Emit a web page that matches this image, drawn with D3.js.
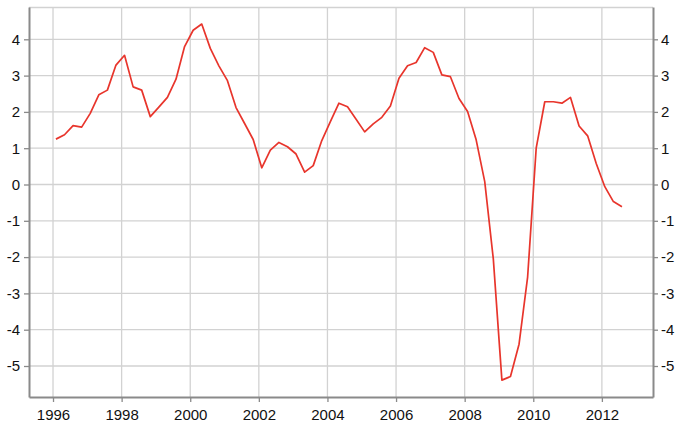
<!DOCTYPE html>
<html>
<head>
<meta charset="utf-8">
<script src="https://cdn.jsdelivr.net/npm/d3@7/dist/d3.min.js"></script>
<style>
  html, body { margin: 0; padding: 0; background: #fff; }
  svg { display: block; }
  text { font-family: "Liberation Sans", Arial, sans-serif; font-size: 15px; fill: #111; }
</style>
</head>
<body>
<svg id="chart" width="679" height="430"></svg>
<script>
// Quarterly periods (1996Q1 .. 2012Q3)
const quarters = [
  "1996Q1","1996Q2","1996Q3","1996Q4","1997Q1","1997Q2","1997Q3","1997Q4",
  "1998Q1","1998Q2","1998Q3","1998Q4","1999Q1","1999Q2","1999Q3","1999Q4",
  "2000Q1","2000Q2","2000Q3","2000Q4","2001Q1","2001Q2","2001Q3","2001Q4",
  "2002Q1","2002Q2","2002Q3","2002Q4","2003Q1","2003Q2","2003Q3","2003Q4",
  "2004Q1","2004Q2","2004Q3","2004Q4","2005Q1","2005Q2","2005Q3","2005Q4",
  "2006Q1","2006Q2","2006Q3","2006Q4","2007Q1","2007Q2","2007Q3","2007Q4",
  "2008Q1","2008Q2","2008Q3","2008Q4","2009Q1","2009Q2","2009Q3","2009Q4",
  "2010Q1","2010Q2","2010Q3","2010Q4","2011Q1","2011Q2","2011Q3","2011Q4",
  "2012Q1","2012Q2","2012Q3"
];
// Series values
const values = [
  1.25, 1.37, 1.62, 1.58, 1.96, 2.47, 2.60, 3.29,
  3.56, 2.69, 2.60, 1.87, 2.13, 2.40, 2.90, 3.80,
  4.25, 4.42, 3.75, 3.27, 2.86, 2.12, 1.68, 1.24,
  0.46, 0.95, 1.16, 1.04, 0.84, 0.34, 0.52, 1.21,
  1.73, 2.24, 2.14, 1.80, 1.45, 1.67, 1.85, 2.16,
  2.93, 3.27, 3.36, 3.77, 3.64, 3.02, 2.97, 2.37,
  2.01, 1.23, 0.08, -2.05, -5.39, -5.29, -4.40, -2.55,
  1.00, 2.28, 2.28, 2.24, 2.40, 1.61, 1.34, 0.58,
  -0.06, -0.47, -0.61
];
// Tick labels
const xTicks = [1996, 1998, 2000, 2002, 2004, 2006, 2008, 2010, 2012];
const yTicks = [-5, -4, -3, -2, -1, 0, 1, 2, 3, 4];

const svg = d3.select("#chart");
const L = 29, R = 653, T = 7, B = 397;

const x = d3.scaleLinear().domain([1995.30, 2013.49]).range([L, R]);
const y = d3.scaleLinear().domain([-5.854, 4.89]).range([B, T]);

const toYear = s => +s.slice(0, 4) + (+s.slice(5) - 1) / 4 + 0.085;
const data = quarters.map((q, i) => ({ t: toYear(q), v: values[i] }));

// Grid
const grid = svg.append("g");
grid.selectAll("line.h").data(yTicks).join("line")
  .attr("x1", L).attr("x2", R)
  .attr("y1", d => y(d)).attr("y2", d => y(d))
  .attr("stroke", "#d2d2d2").attr("stroke-width", 1.3);
grid.selectAll("line.v").data(xTicks).join("line")
  .attr("x1", d => x(d)).attr("x2", d => x(d))
  .attr("y1", T).attr("y2", B)
  .attr("stroke", "#d2d2d2").attr("stroke-width", 1.3);
grid.append("line").attr("x1", L).attr("x2", R).attr("y1", T + 0.5).attr("y2", T + 0.5)
  .attr("stroke", "#d2d2d2").attr("stroke-width", 1.3);

// Axes
const axisColor = "#8a8a8a";
const styleAxis = g => {
  g.select(".domain").attr("stroke", axisColor).attr("stroke-width", 2);
  g.selectAll(".tick line").attr("stroke", axisColor).attr("stroke-width", 1.3);
  g.selectAll(".tick text").attr("fill", "#111");
  g.attr("font-size", null).attr("font-family", null);
};

svg.append("g").attr("transform", `translate(0,${B})`)
  .call(d3.axisBottom(x).tickValues(xTicks).tickFormat(d3.format("d")).tickSizeInner(5).tickSizeOuter(0).tickPadding(7))
  .call(styleAxis);

svg.append("g").attr("transform", `translate(${L},0)`)
  .call(d3.axisLeft(y).tickValues(yTicks).tickFormat(d => d < 0 ? "-" + Math.abs(d) : d).tickSizeInner(5).tickSizeOuter(0).tickPadding(4))
  .call(styleAxis);

svg.append("g").attr("transform", `translate(${R},0)`)
  .call(d3.axisRight(y).tickValues(yTicks).tickFormat(d => d < 0 ? "-" + Math.abs(d) : d).tickSizeInner(5).tickSizeOuter(0).tickPadding(3))
  .call(styleAxis);

// Line
const line = d3.line().x(d => x(d.t)).y(d => y(d.v));
svg.append("path").datum(data)
  .attr("d", line)
  .attr("fill", "none")
  .attr("stroke", "#e8352c")
  .attr("stroke-width", 1.7)
  .attr("stroke-linejoin", "round");
</script>
</body>
</html>
